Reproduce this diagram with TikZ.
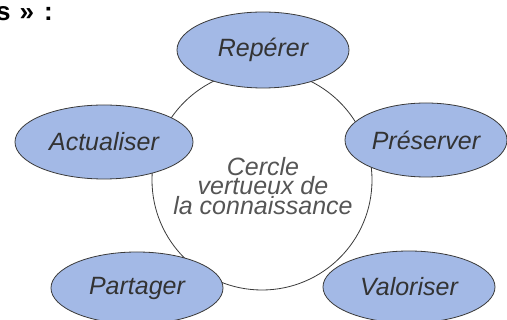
\documentclass[tikz,border=0pt]{standalone}
\usepackage{fontspec}
\setmainfont{Liberation Sans}
\usetikzlibrary{shapes.geometric}
\definecolor{ellfill}{HTML}{A3B9E6}
\definecolor{ellline}{HTML}{3A3A3A}
\definecolor{labtext}{HTML}{333333}
\definecolor{midtext}{HTML}{555555}
\tikzset{
  stage/.style={ellipse, draw=ellline, line width=0.8pt, fill=ellfill, inner sep=0pt,
    text=labtext, font=\fontsize{25}{28}\selectfont\itshape},
  ring/.style={circle, draw=ellline, line width=0.8pt, inner sep=0pt, minimum size=220pt},
  midlabel/.style={align=center, text=midtext, font=\fontsize{25}{19.5}\selectfont\itshape},
  headtext/.style={anchor=base west, inner sep=0pt, font=\fontsize{26}{30}\selectfont\bfseries}
}
\begin{document}
\begin{tikzpicture}[x=1pt,y=-1pt]
\useasboundingbox (0,0) rectangle (507,320);
\node[headtext] (head) at (-4,21) {s\hspace{9pt}»\hspace{10pt}:};
\node[ring] (ring) at (262,180) {};
\node[midlabel] (mid) at (263,186) {Cercle\\vertueux de\\la connaissance};
\node[stage, minimum width=172pt, minimum height=76pt] (rep) at (263,50) {Repérer};
\node[stage, minimum width=178pt, minimum height=74pt] (act) at (104,142) {Actualiser};
\node[stage, minimum width=162pt, minimum height=74pt] (pre) at (426,140) {Préserver};
\node[stage, minimum width=172pt, minimum height=72pt] (par) at (137,288) {Partager};
\node[stage, minimum width=172pt, minimum height=72pt] (val) at (409,287) {Valoriser};
\end{tikzpicture}
\end{document}
